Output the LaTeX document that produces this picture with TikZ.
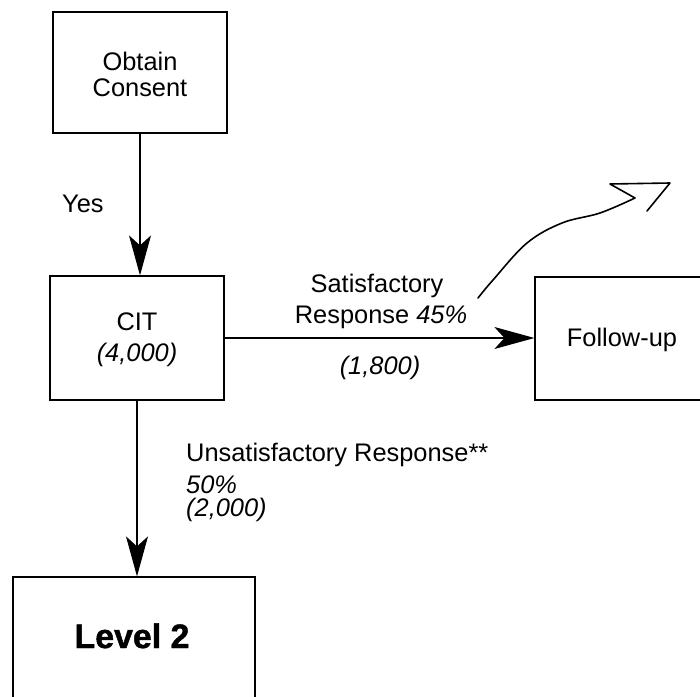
\documentclass[tikz,border=0pt]{standalone}
\usepackage{fontspec}
\setmainfont{Liberation Sans}
\newfontfamily\heavyfont[FakeBold=1.3]{Liberation Sans Bold}
\usetikzlibrary{arrows.meta}
\begin{document}
\begin{tikzpicture}[x=1bp,y=-1bp,
  box/.style={draw, line width=1.2bp, rectangle, inner sep=0pt},
  lbl/.style={font=\fontsize{25.5}{27}\selectfont, inner sep=0pt, anchor=base},
  lbll/.style={lbl, anchor=base west},
  flow/.style={draw, line width=1.2bp, -{Stealth[length=40bp,width=22bp,inset=10bp]}},
]
\clip (0,0) rectangle (700,697);

% boxes
\node[box, minimum width=174bp, minimum height=121bp] (consent) at (140,72.5) {};
\node[box, minimum width=174bp, minimum height=124bp] (cit) at (137,338) {};
\node[box, minimum width=225bp, minimum height=123bp] (follow) at (647.5,338.5) {};
\node[box, minimum width=242bp, minimum height=183bp] (level) at (134,668.5) {};

% box texts
\node[lbl] (t1) at (140,71) {Obtain};
\node[lbl] (t2) at (140,97) {Consent};
\node[lbl] (t3) at (137,330) {CIT};
\node[lbl] (t4) at (137,361) {\itshape (4,000)};
\node[lbl] (t5) at (622,346) {Follow-up};
\node[lbl, font=\fontsize{34}{36}\selectfont\heavyfont] (t6) at (132,648) {Level 2};

% connectors
\draw[flow] (consent.south) -- (consent.south |- cit.north);
\draw[flow] (cit.east) -- (cit.east -| follow.west);
\draw[flow] (cit.south) -- (cit.south |- level.north);

% connector labels
\node[lbll] (yes) at (62,212) {Yes};
\node[lbl] (s1) at (377,292) {Satisfactory};
\node[lbl] (s2) at (381,323) {Response \itshape 45\%};
\node[lbl] (s3) at (380,374) {\itshape (1,800)};
\node[lbll] (u1) at (186,461) {Unsatisfactory Response**};
\node[lbll] (u2) at (186,493) {\itshape 50\%};
\node[lbll] (u3) at (186,516) {\itshape (2,000)};

% hand-drawn arrow
\draw[line width=1.6bp, line join=round, line cap=round]
  plot[smooth, tension=0.6] coordinates {(478,298) (493,280) (527,243) (562,223) (600,213) (635,198)}
  -- (610,184) -- (670,183) -- (647,211);
\end{tikzpicture}
\end{document}
